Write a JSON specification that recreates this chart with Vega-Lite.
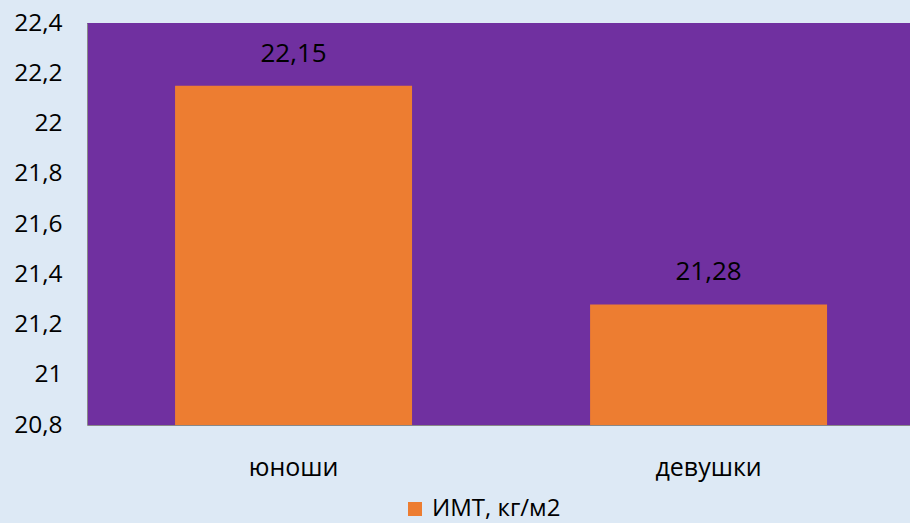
{
  "$schema": "https://vega.github.io/schema/vega-lite/v6.json",
  "autosize": "none",
  "width": 823,
  "height": 402,
  "padding": {"left": 87, "top": 23, "right": 0, "bottom": 98},
  "background": "#dde9f5",
  "config": {
    "locale": {"number": {"decimal": ",", "thousands": " ", "grouping": [3], "currency": ["", ""]}},
    "view": {"fill": "#7030a0", "stroke": null},
    "font": "Open Sans"
  },
  "data": {"values": [
    {"group": "юноши", "value": 22.15, "series": "ИМТ, кг/м2"},
    {"group": "девушки", "value": 21.28, "series": "ИМТ, кг/м2"}
  ]},
  "encoding": {
    "x": {"field": "group", "type": "nominal", "sort": null,
      "scale": {"paddingInner": 0.429, "paddingOuter": 0.206, "align": 0.515},
      "axis": {"title": null, "labelAngle": 0, "labelFontSize": 25, "labelColor": "#000000", "labelPadding": 30, "ticks": false, "domainColor": "#888888", "domainWidth": 1}},
    "y": {"field": "value", "type": "quantitative",
      "scale": {"domain": [20.8, 22.4], "nice": false, "zero": false},
      "axis": {"title": null, "values": [20.8, 21, 21.2, 21.4, 21.6, 21.8, 22, 22.2, 22.4], "format": "~g", "labelFontSize": 24.5, "labelColor": "#000000", "labelPadding": 25, "ticks": false, "grid": false, "domainColor": "#888888", "domainWidth": 1}}
  },
  "layer": [
    {
      "mark": {"type": "bar"},
      "encoding": {
        "y2": {"datum": 20.8},
        "color": {"field": "series", "type": "nominal",
          "scale": {"range": ["#ed7d31"]},
          "legend": {"title": null, "orient": "none", "legendX": 316, "legendY": 474, "symbolType": "square", "symbolSize": 196, "symbolStrokeWidth": 0, "labelFontSize": 24, "labelColor": "#000000", "labelOffset": 5, "padding": 0}}
      }
    },
    {
      "mark": {"type": "text", "baseline": "alphabetic", "dy": -24, "fontSize": 26, "color": "#000000"},
      "encoding": {"text": {"field": "value", "type": "quantitative", "format": ".2f"}}
    }
  ]
}
